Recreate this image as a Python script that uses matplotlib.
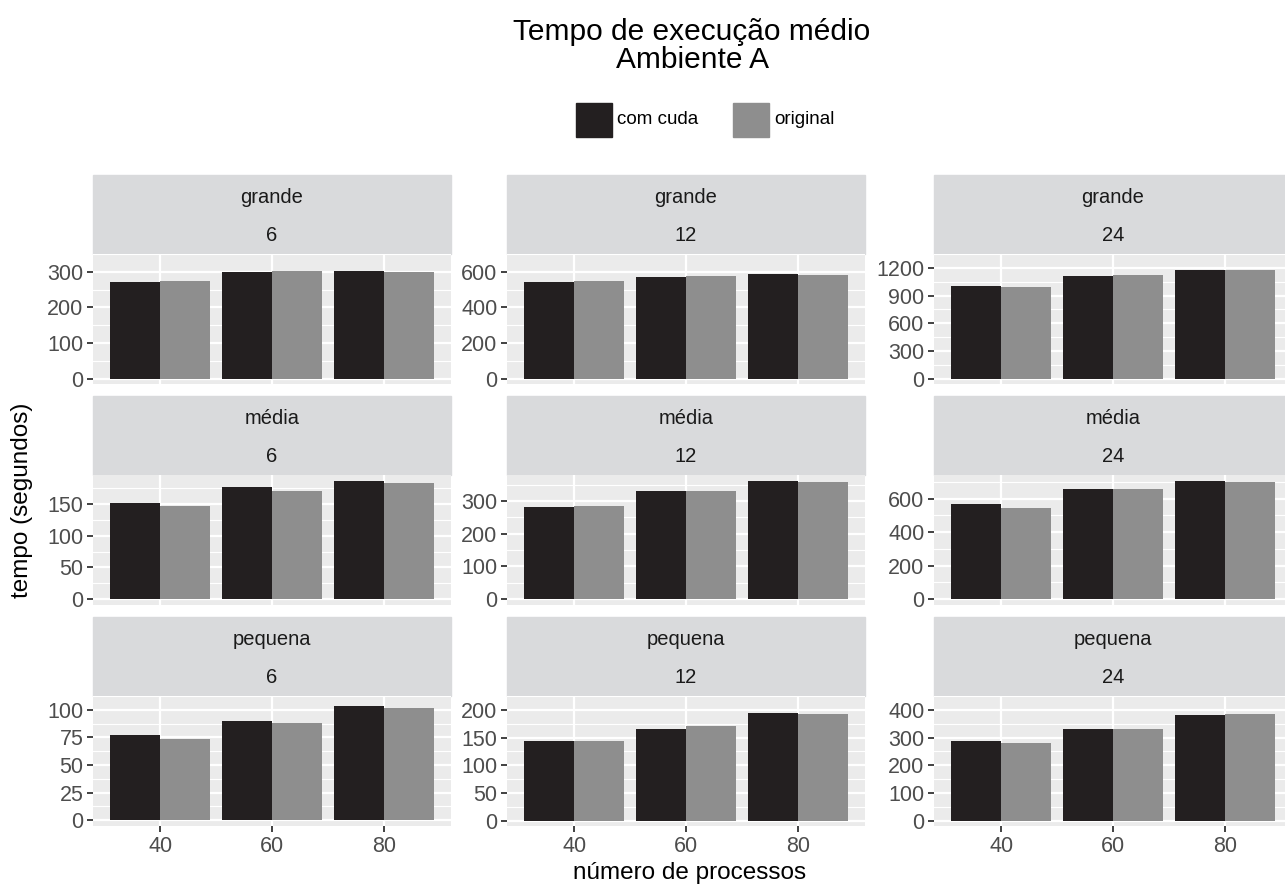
import matplotlib
matplotlib.use("Agg")
import matplotlib.pyplot as plt
from matplotlib.patches import Rectangle

plt.rcParams['font.family'] = ['Liberation Sans', 'DejaVu Sans']

# data
processos = [40, 60, 80]
tamanhos = ["grande", "média", "pequena"]
threads = [6, 12, 24]

com_cuda = {
    ("grande", 6): [271, 300, 303],
    ("grande", 12): [542, 570, 589],
    ("grande", 24): [1004, 1114, 1173],
    ("média", 6): [152, 178, 187],
    ("média", 12): [282, 330, 362],
    ("média", 24): [570, 656, 705],
    ("pequena", 6): [77, 90, 103],
    ("pequena", 12): [143, 166, 194],
    ("pequena", 24): [287, 332, 383],
}
original = {
    ("grande", 6): [275, 301, 299],
    ("grande", 12): [546, 577, 584],
    ("grande", 24): [994, 1124, 1177],
    ("média", 6): [147, 171, 183],
    ("média", 12): [284, 332, 359],
    ("média", 24): [544, 656, 699],
    ("pequena", 6): [73.5, 88, 102],
    ("pequena", 12): [144, 170, 192],
    ("pequena", 24): [280, 332, 386],
}
y_ticks = {
    ("grande", 6): [0, 100, 200, 300],
    ("grande", 12): [0, 200, 400, 600],
    ("grande", 24): [0, 300, 600, 900, 1200],
    ("média", 6): [0, 50, 100, 150],
    ("média", 12): [0, 100, 200, 300],
    ("média", 24): [0, 200, 400, 600],
    ("pequena", 6): [0, 25, 50, 75, 100],
    ("pequena", 12): [0, 50, 100, 150, 200],
    ("pequena", 24): [0, 100, 200, 300, 400],
}

W, H = 1285, 886
fig = plt.figure(figsize=(W / 100, H / 100), dpi=100)

col_left = [93, 507, 934]
col_width = 358
strip_top = [175, 396, 617]
strip_h = 79
panel_h = 130

BLACK = "#231f20"
GREY = "#8e8e8e"
PANEL_BG = "#ebebeb"
STRIP_BG = "#d9dadc"


def px_axes(x0, y0, w, h):
    return fig.add_axes([x0 / W, 1 - (y0 + h) / H, w / W, h / H])


for r, tam in enumerate(tamanhos):
    for c, th in enumerate(threads):
        key = (tam, th)
        # strip (two facet labels stacked)
        sax = px_axes(col_left[c], strip_top[r], col_width, strip_h)
        sax.set_xlim(0, 1)
        sax.set_ylim(0, 1)
        sax.axis("off")
        sax.add_patch(Rectangle((0, 0), 1, 1, color=STRIP_BG, transform=sax.transAxes, clip_on=False))
        sax.text(0.5, 0.72, tam, ha="center", va="center", fontsize=14.5, color="#1a1a1a")
        sax.text(0.5, 0.23, str(th), ha="center", va="center", fontsize=14.5, color="#1a1a1a")

        ax = px_axes(col_left[c], strip_top[r] + strip_h, col_width, panel_h)
        ax.set_facecolor(PANEL_BG)
        xs = list(range(1, len(processos) + 1))
        bw = 0.45
        ax.bar([x - bw / 2 for x in xs], com_cuda[key], width=bw, color=BLACK, zorder=3)
        ax.bar([x + bw / 2 for x in xs], original[key], width=bw, color=GREY, zorder=3)

        top = max(max(com_cuda[key]), max(original[key]))
        ax.set_ylim(-0.05 * top, 1.05 * top)
        ax.set_xlim(0.4, 3.6)
        ticks = y_ticks[key]
        ax.set_yticks(ticks)
        step = ticks[1] - ticks[0]
        ax.set_yticks([t + step / 2 for t in ticks], minor=True)
        ax.set_xticks(xs)
        ax.grid(True, which="major", color="white", linewidth=1.6, zorder=0)
        ax.grid(True, which="minor", axis="y", color="white", linewidth=0.8, zorder=0)
        ax.set_axisbelow(True)
        for s in ax.spines.values():
            s.set_visible(False)
        ax.tick_params(axis="y", which="minor", length=0)
        ax.tick_params(axis="both", which="major", length=4, width=1.3, color="#333333",
                       labelsize=15.5, labelcolor="#4d4d4d", pad=3)
        if r == len(tamanhos) - 1:
            ax.set_xticklabels([str(p) for p in processos])
        else:
            ax.tick_params(axis="x", which="both", length=0, labelbottom=False)

fig.text(692 / W, 1 - 32 / H, "Tempo de execução médio", ha="center", va="center", fontsize=21.5)
fig.text(692 / W, 1 - 60 / H, "Ambiente A", ha="center", va="center", fontsize=21.5)

# legend
lax = px_axes(560, 100, 300, 40)
lax.set_xlim(560, 860)
lax.set_ylim(140, 100)
lax.axis("off")
lax.add_patch(Rectangle((576, 103), 36, 34, color=BLACK))
lax.text(617, 120, "com cuda", ha="left", va="center", fontsize=13.5)
lax.add_patch(Rectangle((733, 103), 36, 34, color=GREY))
lax.text(774, 120, "original", ha="left", va="center", fontsize=13.5)

fig.text(690 / W, 1 - 873 / H, "número de processos", ha="center", va="center", fontsize=17.5)
fig.text(22 / W, 1 - 500 / H, "tempo (segundos)", ha="center", va="center", rotation=90, fontsize=17.5)

fig.savefig("out.png", dpi=100)
